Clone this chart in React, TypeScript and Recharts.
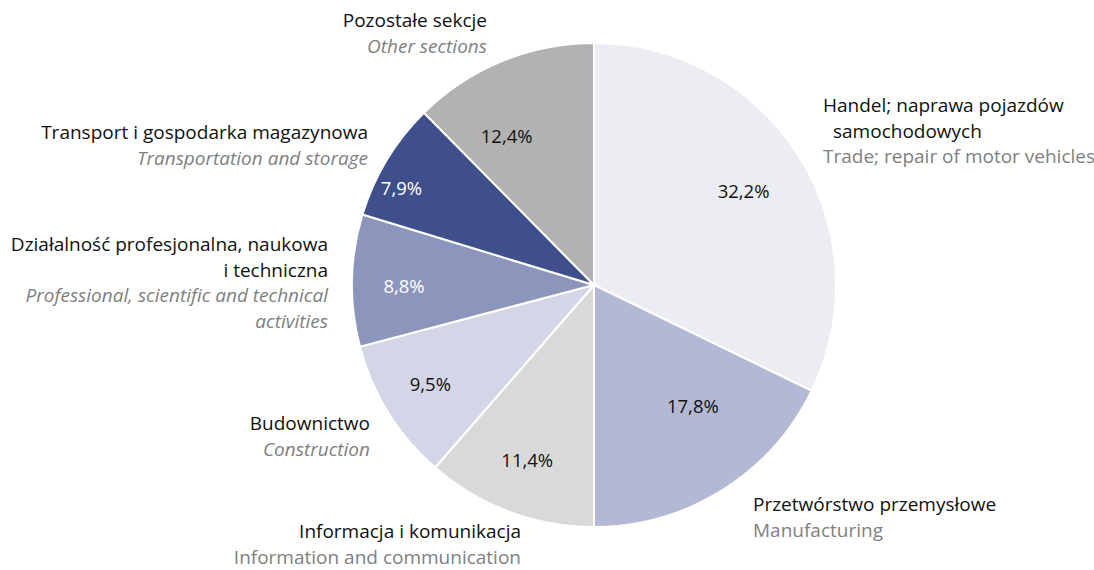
import { PieChart, Pie, Cell } from 'recharts';

const sectionsPl = [
  'Handel; naprawa pojazdów|samochodowych',
  'Przetwórstwo przemysłowe',
  'Informacja i komunikacja',
  'Budownictwo',
  'Działalność profesjonalna, naukowa|i techniczna',
  'Transport i gospodarka magazynowa',
  'Pozostałe sekcje',
];

const sectionsEn = [
  'Trade; repair of motor vehicles',
  'Manufacturing',
  'Information and communication',
  'Construction',
  'Professional, scientific and technical|activities',
  'Transportation and storage',
  'Other sections',
];

const shares = [32.2, 17.8, 11.4, 9.5, 8.8, 7.9, 12.4];

const sliceColors = ['#ececf3', '#b3b8d4', '#d9d9d9', '#d3d6e6', '#8c96bc', '#3f4f8c', '#b2b2b2'];
const pctColors = ['#111', '#111', '#111', '#111', '#fff', '#fff', '#111'];
const enItalic = [false, false, false, true, true, true, true];

// where the percentage sits inside its slice: radius and small angle nudge
const pctPos = [
  { r: 177, shift: 0.3 },
  { r: 156, shift: 7.3 },
  { r: 187, shift: -0.4 },
  { r: 191, shift: -0.8 },
  { r: 190, shift: 1.1 },
  { r: 216, shift: 4.2 },
  { r: 173, shift: 8 },
];

// outer label blocks: anchor x, first line y, alignment, indent for 2nd PL line
const blockPos = [
  { x: 823, y: 105, anchor: 'start', indent: 10 },
  { x: 753, y: 504, anchor: 'start', indent: 0 },
  { x: 521, y: 531, anchor: 'end', indent: 0 },
  { x: 370, y: 423, anchor: 'end', indent: 0 },
  { x: 328, y: 244, anchor: 'end', indent: 0 },
  { x: 368, y: 132, anchor: 'end', indent: 0 },
  { x: 487, y: 20, anchor: 'end', indent: 0 },
];

const data = shares.map((v, i) => ({ name: sectionsPl[i], value: v }));

const FONT = '"Open Sans", sans-serif';
const RADIAN = Math.PI / 180;
const LINE = 25.5;

function renderLabel(props: any) {
  const { cx, cy, midAngle, index } = props;
  const p = pctPos[index];
  const a = (midAngle + p.shift) * RADIAN;
  const px = cx + p.r * Math.cos(-a);
  const py = cy + p.r * Math.sin(-a);
  const b = blockPos[index];
  const pl = sectionsPl[index].split('|');
  const en = sectionsEn[index].split('|');
  const lines = [
    ...pl.map((t, k) => ({ t, fill: '#111', italic: false, dx: k > 0 ? b.indent : 0 })),
    ...en.map((t) => ({ t, fill: '#7f7f7f', italic: enItalic[index], dx: 0 })),
  ];
  return (
    <g key={`lbl-${index}`}>
      <text
        x={px}
        y={py}
        textAnchor="middle"
        dominantBaseline="central"
        fill={pctColors[index]}
        fontSize={18.5}
        fontFamily={FONT}
      >
        {shares[index].toFixed(1).replace('.', ',')}%
      </text>
      {lines.map((ln, k) => (
        <text
          key={k}
          x={b.x + ln.dx}
          y={b.y + k * LINE}
          textAnchor={b.anchor as any}
          dominantBaseline="central"
          fill={ln.fill}
          fontStyle={ln.italic ? 'italic' : 'normal'}
          fontSize={19}
          fontFamily={FONT}
        >
          {ln.t}
        </text>
      ))}
    </g>
  );
}

export default function App() {
  return (
    <div style={{ position: 'absolute', left: 0, top: 0, width: 1094, height: 570, background: '#fff' }}>
      <PieChart width={1094} height={570} margin={{ top: 0, right: 0, bottom: 0, left: 0 }}>
        <Pie
          data={data}
          dataKey="value"
          nameKey="name"
          cx={594}
          cy={285}
          outerRadius={242}
          startAngle={90}
          endAngle={-270}
          stroke="#fff"
          strokeWidth={2}
          label={renderLabel}
          labelLine={false}
          isAnimationActive={false}
        >
          {data.map((d, i) => (
            <Cell key={d.name} fill={sliceColors[i]} />
          ))}
        </Pie>
      </PieChart>
    </div>
  );
}
